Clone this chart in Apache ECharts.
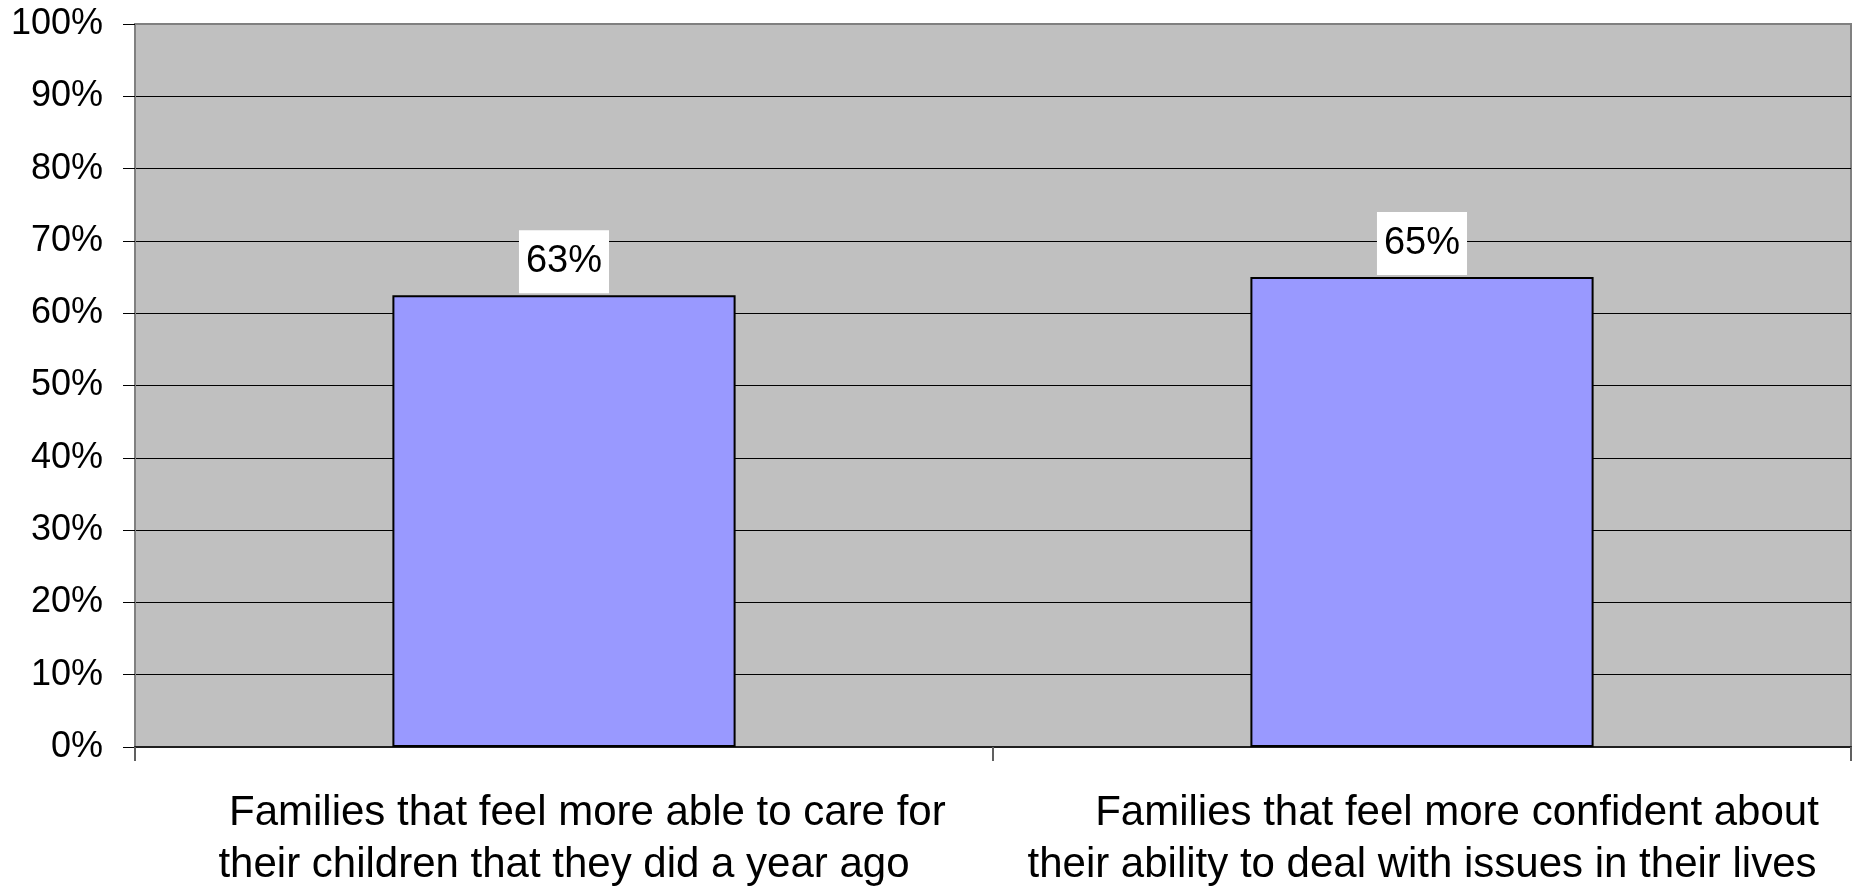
<!DOCTYPE html>
<html>
<head>
<meta charset="utf-8">
<script src="https://cdn.jsdelivr.net/npm/echarts@6/dist/echarts.min.js"></script>
<style>
  html, body { margin: 0; padding: 0; background: #fff; }
  #chart { width: 1858px; height: 887px; }
</style>
</head>
<body>
<div id="chart"></div>
<script>
// categories (first line carries leading spaces as in the source)
const categories = [
  '    Families that feel more able to care for\ntheir children that they did a year ago',
  '      Families that feel more confident about\ntheir ability to deal with issues in their lives'
];
const values = [62.5, 65];
const yMin = 0;
const yMax = 100;
const yStep = 10;

const font = '"Liberation Sans", Arial, sans-serif';

// gridline at 100% is the gray plot border, the rest are black
const splitColors = [];
for (let v = yMin; v <= yMax; v += yStep) {
  splitColors.push(v === yMax ? '#808080' : '#000000');
}

const chart = echarts.init(document.getElementById('chart'));
chart.setOption({
  backgroundColor: '#ffffff',
  animation: false,
  grid: {
    left: 135,
    right: 7,
    top: 24,
    bottom: 140,
    outerBoundsMode: 'none',
    containLabel: false,
    show: true,
    backgroundColor: '#C0C0C0',
    borderColor: '#808080',
    borderWidth: 2
  },
  xAxis: {
    type: 'category',
    data: categories,
    boundaryGap: true,
    axisLine: { show: true, lineStyle: { color: '#202020', width: 2 } },
    axisTick: { show: true, length: 14, lineStyle: { color: '#606060', width: 2 } },
    axisLabel: {
      interval: 0,
      margin: 40,
      fontFamily: font,
      fontSize: 42,
      lineHeight: 52,
      color: '#000'
    },
    splitLine: { show: false }
  },
  yAxis: {
    type: 'value',
    min: yMin,
    max: yMax,
    interval: yStep,
    axisLine: { show: true, lineStyle: { color: '#808080', width: 2 } },
    axisTick: { show: true, length: 12, lineStyle: { color: '#000', width: 1 } },
    axisLabel: {
      margin: 32,
      fontFamily: font,
      fontSize: 36,
      color: '#000',
      formatter: '{value}%'
    },
    splitLine: { show: true, lineStyle: { color: splitColors, width: 1 } }
  },
  series: [
    {
      type: 'bar',
      data: values,
      barWidth: '40%',
      itemStyle: {
        color: '#9999FF',
        borderColor: '#000',
        borderWidth: 2
      },
      label: {
        show: true,
        position: 'top',
        distance: 2,
        fontFamily: font,
        fontSize: 38,
        lineHeight: 39,
        color: '#000',
        backgroundColor: '#fff',
        padding: [12, 7],
        formatter: (p) => Math.round(p.value) + '%'
      }
    }
  ]
});
</script>
</body>
</html>
